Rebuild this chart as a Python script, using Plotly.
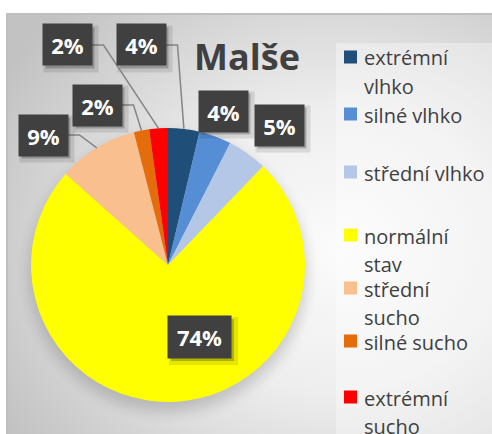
import base64
import math
import plotly.graph_objects as go

# ---------------- data ----------------
categories = ["extrémní vlhko", "silné vlhko", "střední vlhko", "normální stav",
              "střední sucho", "silné sucho", "extrémní sucho"]
values = [3.7, 3.8, 4.7, 74.4, 9.4, 1.8, 2.2]
legend_lines = [["extrémní", "vlhko"], ["silné vlhko"], ["střední vlhko"],
                ["normální", "stav"], ["střední", "sucho"], ["silné sucho"],
                ["extrémní", "sucho"]]
colors = ["#1F4E79", "#558ED5", "#B4C7E7", "#FFFF00", "#F9BF8F", "#E46C0A", "#FF0000"]
title_text = "Malše"

# ---------------- layout constants (pixels) ----------------
W, H = 492, 434
PIE_CX, PIE_CY, PIE_R = 168, 265, 137
FRAME_X0, FRAME_Y0 = 7, 14
# label box centres and sizes
box_pos = [(141, 45), (223, 111), (279, 125), (199.5, 337), (43, 135), (97, 105), (67, 45)]
box_size = [(49, 41), (49, 41), (49, 41), (63, 42), (49, 41), (49, 41), (49, 41)]
has_leader = [True, False, False, False, True, True, True]
legend_cy = [57, 114, 172, 235, 288, 341, 397]
LEG_SQ_X, LEG_SQ = 344, 13
LEG_TXT_X, LEG_PITCH = 362, 28


def px(x):
    return x / W


def py(y):
    return 1 - y / H


# ---------------- background image (gradient + pie shadow) ----------------
bw, bh = W - FRAME_X0, H - FRAME_Y0
svg = (
    f'<svg xmlns="http://www.w3.org/2000/svg" width="{bw}" height="{bh}" viewBox="0 0 {bw} {bh}" '
    f'preserveAspectRatio="none"><defs>'
    f'<radialGradient id="g" cx="0.68" cy="0.56" r="0.8">'
    f'<stop offset="0" stop-color="#fbfbfb"/><stop offset="0.42" stop-color="#eeeeee"/>'
    f'<stop offset="1" stop-color="#c2c2c2"/></radialGradient>'
    f'<filter id="b" x="-20%" y="-20%" width="140%" height="140%"><feGaussianBlur stdDeviation="7"/></filter>'
    f'</defs><rect width="{bw}" height="{bh}" fill="url(#g)"/>'
    f'<ellipse cx="{PIE_CX - FRAME_X0}" cy="{PIE_CY - FRAME_Y0 + 8}" rx="{PIE_R + 2}" ry="{PIE_R + 2}" '
    f'fill="#000" opacity="0.16" filter="url(#b)"/></svg>'
)
src = "data:image/svg+xml;base64," + base64.b64encode(svg.encode("utf-8")).decode("ascii")

fig = go.Figure()
fig.add_trace(go.Pie(
    labels=categories,
    values=values,
    marker=dict(colors=colors, line=dict(width=0)),
    sort=False,
    direction="clockwise",
    rotation=0,
    textinfo="none",
    showlegend=False,
    domain=dict(x=[px(PIE_CX - PIE_R), px(PIE_CX + PIE_R)],
                y=[py(PIE_CY + PIE_R), py(PIE_CY - PIE_R)]),
    hovertemplate="%{label}: %{percent}<extra></extra>",
))

shapes = []
annotations = []

# frame border
shapes.append(dict(type="rect", xref="paper", yref="paper",
                   x0=px(FRAME_X0), x1=px(W + 2), y0=py(H + 2), y1=py(FRAME_Y0),
                   line=dict(color="#bfbfbf", width=2), layer="below"))
# legend lighter panel
shapes.append(dict(type="rect", xref="paper", yref="paper",
                   x0=px(336), x1=px(W + 2), y0=py(H + 2), y1=py(43),
                   fillcolor="rgba(255,255,255,0.35)", line=dict(width=0), layer="below"))

total = sum(values)
cum = 0.0
for i, v in enumerate(values):
    mid = (cum + v / 2) / total * 2 * math.pi
    cum += v
    ex = PIE_CX + PIE_R * math.sin(mid)
    ey = PIE_CY - PIE_R * math.cos(mid)
    bx, by = box_pos[i]
    w, h = box_size[i]
    pct = round(v / total * 100)
    if has_leader[i]:
        x0 = bx + w / 2
        shapes.append(dict(type="path", xref="paper", yref="paper",
                           path=f"M {px(x0)},{py(by)} L {px(x0 + 12)},{py(by)} L {px(ex)},{py(ey)}",
                           line=dict(color="#858585", width=1.5), layer="above"))
    # soft shadow
    for off, alpha, grow in [(4, 0.10, 3), (3, 0.22, 0)]:
        shapes.append(dict(type="rect", xref="paper", yref="paper",
                           x0=px(bx - w / 2 + off - grow), x1=px(bx + w / 2 + off + grow),
                           y0=py(by + h / 2 + off + grow), y1=py(by - h / 2 + off - grow),
                           fillcolor=f"rgba(0,0,0,{alpha})", line=dict(width=0), layer="above"))
    annotations.append(dict(
        x=px(bx), y=py(by), xref="paper", yref="paper", xanchor="center", yanchor="middle",
        text=f"<b>{pct}%</b>", showarrow=False, width=w, height=h, borderpad=0,
        bgcolor="#404040", font=dict(family="Open Sans", size=22, color="white"),
    ))

# legend (drawn manually to match Excel's spacing)
for i, lines in enumerate(legend_lines):
    cy = legend_cy[i]
    shapes.append(dict(type="rect", xref="paper", yref="paper",
                       x0=px(LEG_SQ_X), x1=px(LEG_SQ_X + LEG_SQ),
                       y0=py(cy + LEG_SQ / 2), y1=py(cy - LEG_SQ / 2),
                       fillcolor=colors[i], line=dict(width=0), layer="above"))
    for j, t in enumerate(lines):
        annotations.append(dict(
            x=px(LEG_TXT_X), y=py(cy + 1 + j * LEG_PITCH), xref="paper", yref="paper",
            xanchor="left", yanchor="middle", text=t, showarrow=False,
            font=dict(family="Open Sans", size=20, color="#404040"),
        ))

fig.update_layout(
    width=W, height=H,
    margin=dict(l=0, r=0, t=0, b=0),
    paper_bgcolor="white",
    plot_bgcolor="rgba(0,0,0,0)",
    title=dict(text=f"<b>{title_text}</b>", x=px(247), y=py(57), xanchor="center", yanchor="middle",
               font=dict(family="Open Sans", size=36, color="#404040")),
    images=[dict(source=src, xref="paper", yref="paper", x=px(FRAME_X0), y=py(FRAME_Y0),
                 sizex=bw / W, sizey=bh / H, xanchor="left", yanchor="top",
                 sizing="stretch", layer="below")],
    shapes=shapes,
    annotations=annotations,
    showlegend=False,
)

fig.write_html(
    "out.html",
    config={"displayModeBar": False},
    post_script="document.body.style.margin='0';document.body.style.padding='0';",
)
